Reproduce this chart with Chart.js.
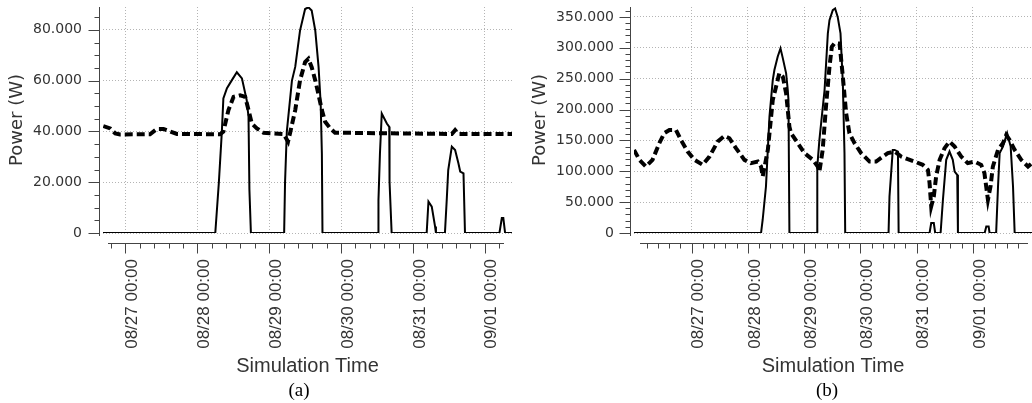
<!DOCTYPE html>
<html>
<head>
<meta charset="utf-8">
<script src="https://cdn.jsdelivr.net/npm/chart.js@4.4.1/dist/chart.umd.min.js"></script>
<style>
  body { margin: 0; background: #fff; }
  #wrap { position: relative; width: 1032px; height: 403px; }
  canvas { position: absolute; top: 0; }
  .cap { position: absolute; width: 100px; text-align: center; font: 19px "Liberation Serif", serif; line-height: 20px; color: #000; }
</style>
</head>
<body>
<div id="wrap">
  <canvas id="chartA" width="516" height="403" style="left:0"></canvas>
  <canvas id="chartB" width="516" height="403" style="left:516px"></canvas>
  <div class="cap" style="left:249px;top:380px">(a)</div>
  <div class="cap" style="left:777px;top:380px">(b)</div>
</div>
<script>
// time axis in hours from 08/27 00:00
const dayTicks = [0, 24, 48, 72, 96, 120];
const dayLabels = ["08/27 00:00", "08/28 00:00", "08/29 00:00", "08/30 00:00", "08/31 00:00", "09/01 00:00"];
const yTicksA = [0, 20000, 40000, 60000, 80000];
const yTicksB = [0, 50000, 100000, 150000, 200000, 250000, 300000, 350000];

// (a) solid
const solidA_h = [-7.5, 30, 31.2, 32.2, 32.7, 33.9, 35.5, 37.2, 38.9, 40.5, 41.1, 41.4, 41.9,
  53.0, 53.3, 53.9, 55.6, 56.7, 58.3, 60.0, 61.1, 62.2, 63.4, 64.5, 65.2, 65.6, 65.8,
  84.4, 84.5, 85.0, 85.6, 87.3, 88.1, 88.2, 88.9,
  100.6, 101.2, 102.3, 103.4, 103.7, 106.7, 107.3, 107.8, 109.0, 110.1, 111.2, 111.8, 112.9, 113.4,
  124.9, 125.7, 126.2, 126.8, 129.1];
const solidA_w = [0, 0, 20000, 40000, 53000, 57000, 60100, 63300, 60900, 52300, 45700, 17000, 0,
  0, 20000, 40000, 60000, 65400, 79700, 88200, 88900, 87600, 79700, 65300, 51000, 31400, 0,
  0, 13000, 31400, 47000, 43100, 41800, 20200, 0,
  0, 12400, 10400, 2600, 0, 0, 13000, 24800, 34000, 32700, 27500, 24200, 23500, 0,
  0, 5900, 5900, 0, 0];

// (a) dashed
const dashA_h = [-7.4, -5.1, -3.4, -1.8, 8.2, 10.5, 12.7, 14.9, 17.2, 31.6, 32.7, 34.4, 36.1, 38.3, 40.0, 41.1, 42.2, 43.9, 46.1,
  52.8, 54.3, 55.0, 56.7, 58.3, 60.0, 61.1, 62.2, 63.4, 64.4, 65.6, 66.7, 68.4, 70.0, 109.0, 110.1, 111.2, 129.1];
const dashA_w = [42100, 41200, 39200, 38800, 38900, 41000, 41000, 40000, 39000, 38900, 39900, 48400, 53600, 54200, 53600, 48400, 43100, 41200, 39500,
  39000, 36000, 39500, 48400, 60100, 67300, 68600, 65300, 60100, 54900, 48400, 43800, 41200, 39500, 39000, 40500, 39000, 39000];

// (b) solid
const solidB_h = [-24.6, 29.6, 30.3, 31.7, 33.2, 34.6, 35.3, 36.7, 37.9, 38.9, 40.3, 41.0, 41.3, 41.7,
  53.5, 53.6, 54.5, 56.7, 58.1, 58.8, 60.2, 61.2, 62.3, 63.5, 64.5, 65.2, 65.5,
  84.0, 84.4, 85.8, 86.6, 88.0, 88.3,
  101.5, 102.2, 103.3, 103.9, 106.2, 107.2, 108.6, 110.0, 111.4, 112.2, 113.3, 113.6,
  125.0, 125.7, 126.7, 127.1, 129.9, 130.7, 131.4, 132.8, 134.6, 136.1, 137.1, 137.8, 145.2];
const solidB_w = [0, 0, 21500, 75300, 188400, 247700, 263900, 285400, 299000, 282800, 258600, 231600, 215400, 0,
  0, 107600, 150800, 231600, 323200, 344700, 360900, 363600, 350000, 323200, 242400, 129300, 0,
  0, 59100, 134600, 134600, 131900, 0,
  0, 16200, 16200, 0, 0, 53800, 118500, 131900, 118500, 99500, 94200, 0,
  0, 10700, 10700, 0, 0, 75300, 129300, 139900, 161600, 139900, 75300, 0, 0];

// (b) dashed
const dashB_h = [-24.6, -22.3, -19.5, -16.7, -13.8, -11.7, -9.5, -6.7, -4.6, -1.7, 1.2, 4.7, 7.6, 11.1, 14.0, 16.1, 18.9, 22.5, 25.3, 28.2,
  29.6, 30.3, 32.5, 34.6, 36.0, 37.4, 38.9, 40.3, 41.7, 42.4, 45.3, 48.1, 51.7, 53.8, 54.5, 55.9, 57.3, 58.8, 59.8, 60.9, 63.1,
  64.5, 65.9, 67.3, 69.5, 72.3, 75.9, 78.7, 81.6, 83.7, 86.6, 89.4, 92.2, 95.1, 98.6, 100.8, 101.5, 102.2, 103.3, 104.3, 105.8,
  107.9, 110.0, 112.2, 115.0, 117.8, 120.7, 123.5, 124.9, 126.4, 127.5, 128.5, 130.7, 132.8, 134.2, 135.6, 137.8, 140.6, 143.5, 145.2];
const dashB_w = [134600, 118500, 107600, 118500, 145400, 161600, 166900, 166900, 150800, 131900, 118500, 110400, 123800, 148000, 157200, 153500, 137400, 118500, 113100, 115700,
  107600, 91500, 134600, 215400, 236900, 258600, 253100, 226200, 172300, 161600, 145400, 129300, 118500, 107600, 99500, 134600, 204600, 269200, 301600, 307000, 307000,
  253100, 193900, 161600, 145400, 129300, 115700, 115700, 123800, 129300, 131900, 123800, 119600, 115700, 110400, 102300, 80800, 43000, 59100, 91500, 118500,
  137400, 148000, 139900, 123800, 113100, 115700, 110400, 97000, 53800, 75300, 107600, 134600, 145400, 158800, 150800, 134600, 118500, 107600, 113100];

function zip(h, w) {
  return h.map((t, i) => ({ x: t, y: w[i] }));
}

function fmt(v) {
  return String(v).replace(/\B(?=(\d{3})+(?!\d))/g, ".");
}

// axis lines + major/minor tick marks, offset from the plot like the original
function axesPlugin(cfg) {
  return {
    id: "axes",
    afterDraw(chart) {
      const { ctx, chartArea } = chart;
      const x = chart.scales.x, y = chart.scales.y;
      ctx.save();
      ctx.strokeStyle = "#444";
      ctx.lineWidth = 1;
      ctx.beginPath();
      const ax = Math.round(chartArea.left) - 3.5;
      ctx.moveTo(ax, chartArea.top);
      ctx.lineTo(ax, chartArea.bottom + 3);
      for (let v = 0; v <= y.max; v += cfg.yMinor) {
        const py = Math.round(y.getPixelForValue(v)) + 0.5;
        const len = cfg.yTicks.includes(v) ? 11 : 5;
        ctx.moveTo(ax - len, py);
        ctx.lineTo(ax, py);
      }
      const ay = Math.round(chartArea.bottom) + 10.5;
      const x0 = chartArea.left + cfg.xInset[0];
      const x1 = chartArea.right - cfg.xInset[1];
      ctx.moveTo(x0, ay);
      ctx.lineTo(x1, ay);
      const v0 = x.getValueForPixel(x0), v1 = x.getValueForPixel(x1);
      for (let k = Math.ceil(v0 / 4.8); k * 4.8 <= v1; k++) {
        const px = Math.round(x.getPixelForValue(k * 4.8)) + 0.5;
        const len = k % 5 === 0 ? 10 : 5;
        ctx.moveTo(px, ay);
        ctx.lineTo(px, ay + len);
      }
      ctx.stroke();
      ctx.restore();
    }
  };
}

function makeChart(id, c) {
  return new Chart(document.getElementById(id), {
    type: "line",
    data: {
      datasets: [
        { data: zip(c.dashH, c.dashW), borderColor: "#000", borderWidth: 4, borderDash: [8, 4], pointRadius: 0, tension: 0, fill: false },
        { data: zip(c.solidH, c.solidW), borderColor: "#000", borderWidth: 2, pointRadius: 0, tension: 0, fill: false }
      ]
    },
    options: {
      responsive: false,
      animation: false,
      devicePixelRatio: 1,
      layout: { padding: { left: 0, right: c.padRight, top: 7, bottom: 0 } },
      plugins: { legend: { display: false }, tooltip: { enabled: false } },
      scales: {
        x: {
          type: "linear",
          min: c.solidH[0],
          max: c.solidH[c.solidH.length - 1],
          afterBuildTicks: (s) => { s.ticks = dayTicks.map(v => ({ value: v })); },
          afterFit: (s) => { s.height = 170; s.paddingLeft = 0; s.paddingRight = 0; },
          grid: { color: "#b4b4b4", lineWidth: 1, drawTicks: false },
          border: { display: false, dash: [1, 2] },
          ticks: {
            autoSkip: false, minRotation: 90, maxRotation: 90, padding: 26, labelOffset: 7,
            color: "#333", font: { family: "Liberation Sans", size: 17 },
            callback: (v, i) => dayLabels[i]
          },
          title: {
            display: true, text: "Simulation Time", color: "#333",
            font: { family: "Liberation Sans", size: 20 }, padding: { top: 0, bottom: 25 }
          }
        },
        y: {
          min: 0,
          max: c.yMax,
          afterBuildTicks: (s) => { s.ticks = c.yTicks.map(v => ({ value: v })); },
          afterFit: (s) => { s.width = c.yWidth; s.paddingTop = 0; s.paddingBottom = 0; },
          grid: { color: "#b4b4b4", lineWidth: 1, drawTicks: false },
          border: { display: false, dash: [1, 2] },
          ticks: {
            padding: c.yPad, color: "#333", font: { family: "DejaVu Sans", size: 14 },
            callback: (v) => fmt(v)
          },
          title: {
            display: true, text: "Power (W)", color: "#333",
            font: { family: "DejaVu Sans", size: 18 }, padding: { top: c.yTitlePad, bottom: 0 }
          }
        }
      }
    },
    plugins: [axesPlugin({ yMinor: c.yMinor, yTicks: c.yTicks, xInset: c.xInset })]
  });
}

makeChart("chartA", {
  dashH: dashA_h, dashW: dashA_w, solidH: solidA_h, solidW: solidA_w,
  yMax: 89000, yTicks: yTicksA, yMinor: 5000, yWidth: 103, yPad: 21, yTitlePad: 7,
  padRight: 4, xInset: [5, 8]
});

makeChart("chartB", {
  dashH: dashB_h, dashW: dashB_w, solidH: solidB_h, solidW: solidB_w,
  yMax: 366000, yTicks: yTicksB, yMinor: 10000, yWidth: 118, yPad: 20, yTitlePad: 14,
  padRight: 0, xInset: [6, 4]
});
</script>
</body>
</html>
